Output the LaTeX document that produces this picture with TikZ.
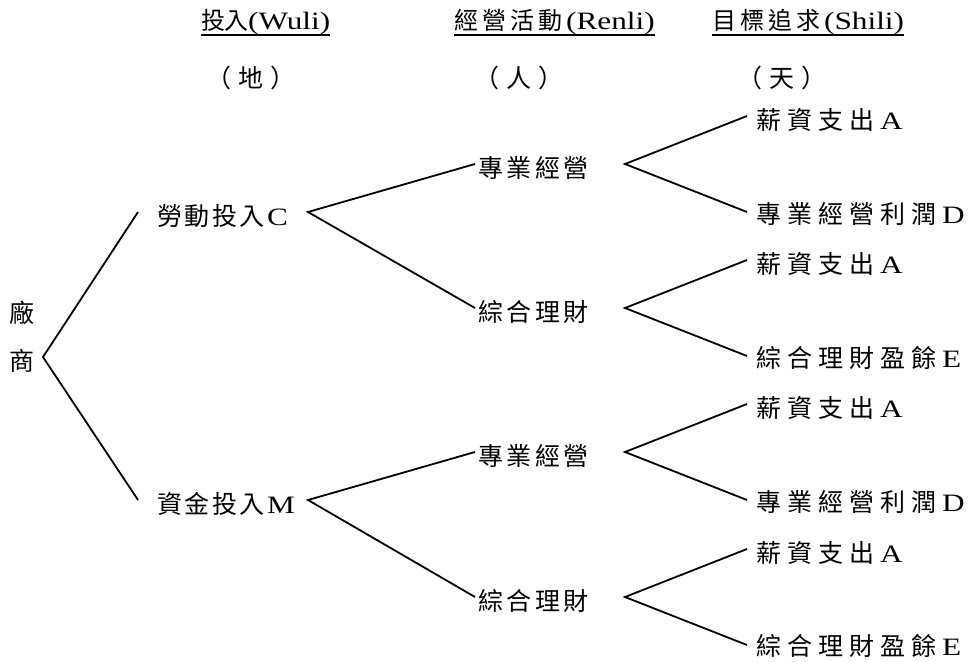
\documentclass[tikz,border=0pt]{standalone}
\usepackage{fontspec}
\usepackage{graphicx}
\setmainfont{Liberation Serif}
\newfontfamily\cjk{Noto Sans CJK TC}
\newcommand\spc[2]{\def\spcw{#1}\spcloop#2\relax}
\def\spcloop#1{\ifx#1\relax\else\makebox[\spcw][l]{#1}\expandafter\spcloop\fi}
\newcommand\lat[1]{{\rmfamily\fontsize{25}{25}\selectfont\scalebox{1.25}[1]{#1}}}
\newcommand\ulbox[1]{\setbox0\hbox{#1}\rlap{\rule[-6pt]{\wd0}{1.6pt}}\box0}
\tikzset{
  txt/.style={inner sep=0pt, anchor=west, font=\cjk\fontsize{25}{25}\selectfont, text height=22pt, text depth=3pt},
  hdr/.style={inner sep=0pt, anchor=base west, font=\cjk\fontsize{24}{24}\selectfont},
  subhdr/.style={inner sep=0pt, anchor=west, font=\cjk\fontsize{25}{25}\selectfont, text height=22pt, text depth=3pt},
  link/.style={line width=1.8pt}
}
\begin{document}
\begin{tikzpicture}[x=1pt,y=-1pt]
\useasboundingbox (0,0) rectangle (968,661);
% headers
\node[hdr] (h1) at (201,30) {\ulbox{\spc{23.5pt}{投入}\lat{(Wuli)}}};
\node[hdr] (h2) at (454,30) {\ulbox{\spc{28pt}{經營活動}\lat{(Renli)}}};
\node[hdr] (h3) at (712,30) {\ulbox{\spc{28pt}{目標追求}\lat{(Shili)}}};
\node[subhdr] (s1) at (206,78) {\spc{32pt}{（地）}};
\node[subhdr] (s2) at (474,78) {\spc{32pt}{（人）}};
\node[subhdr] (s3) at (737,78) {\spc{32pt}{（天）}};
% root
\node[inner sep=0pt, align=center, font=\cjk\fontsize{25}{48}\selectfont] (firm) at (22,337) {廠\\商};
% level 1
\node[txt] (labor) at (157,216) {\spc{27.5pt}{勞動投入}\lat{C}};
\node[txt] (capital) at (157,504) {\spc{27.5pt}{資金投入}\lat{M}};
% level 2
\node[txt] (p1) at (478,168) {\spc{28.5pt}{專業經營}};
\node[txt] (f1) at (478,312) {\spc{28.5pt}{綜合理財}};
\node[txt] (p2) at (478,456) {\spc{28.5pt}{專業經營}};
\node[txt] (f2) at (478,601) {\spc{28.5pt}{綜合理財}};
% level 3
\node[txt] (a1) at (756,120) {\spc{31pt}{薪資支出}\lat{A}};
\node[txt] (d1) at (756,214) {\spc{31pt}{專業經營利潤}\lat{D}};
\node[txt] (a2) at (756,264) {\spc{31pt}{薪資支出}\lat{A}};
\node[txt] (e1) at (756,358) {\spc{31pt}{綜合理財盈餘}\lat{E}};
\node[txt] (a3) at (756,408) {\spc{31pt}{薪資支出}\lat{A}};
\node[txt] (d2) at (756,502) {\spc{31pt}{專業經營利潤}\lat{D}};
\node[txt] (a4) at (756,553) {\spc{31pt}{薪資支出}\lat{A}};
\node[txt] (e2) at (756,646) {\spc{31pt}{綜合理財盈餘}\lat{E}};
% branch points
\coordinate (v0) at (43,357);
\coordinate (vC) at (308,212);
\coordinate (vM) at (308,500);
\coordinate (vp1) at (625,164);
\coordinate (vf1) at (625,308);
\coordinate (vp2) at (625,452);
\coordinate (vf2) at (625,597);
% connectors
\draw[link] ([xshift=-19pt,yshift=4pt]labor.west) -- (v0) -- ([xshift=-19pt,yshift=4pt]capital.west);
\draw[link] ([xshift=-3pt,yshift=4pt]p1.west) -- (vC) -- ([xshift=-3pt,yshift=4pt]f1.west);
\draw[link] ([xshift=-3pt,yshift=4pt]p2.west) -- (vM) -- ([xshift=-3pt,yshift=4pt]f2.west);
\draw[link] ([xshift=-9pt,yshift=4pt]a1.west) -- (vp1) -- ([xshift=-9pt,yshift=2pt]d1.west);
\draw[link] ([xshift=-9pt,yshift=4pt]a2.west) -- (vf1) -- ([xshift=-9pt,yshift=2pt]e1.west);
\draw[link] ([xshift=-9pt,yshift=4pt]a3.west) -- (vp2) -- ([xshift=-9pt,yshift=2pt]d2.west);
\draw[link] ([xshift=-9pt,yshift=4pt]a4.west) -- (vf2) -- ([xshift=-9pt,yshift=1pt]e2.west);
\end{tikzpicture}
\end{document}
